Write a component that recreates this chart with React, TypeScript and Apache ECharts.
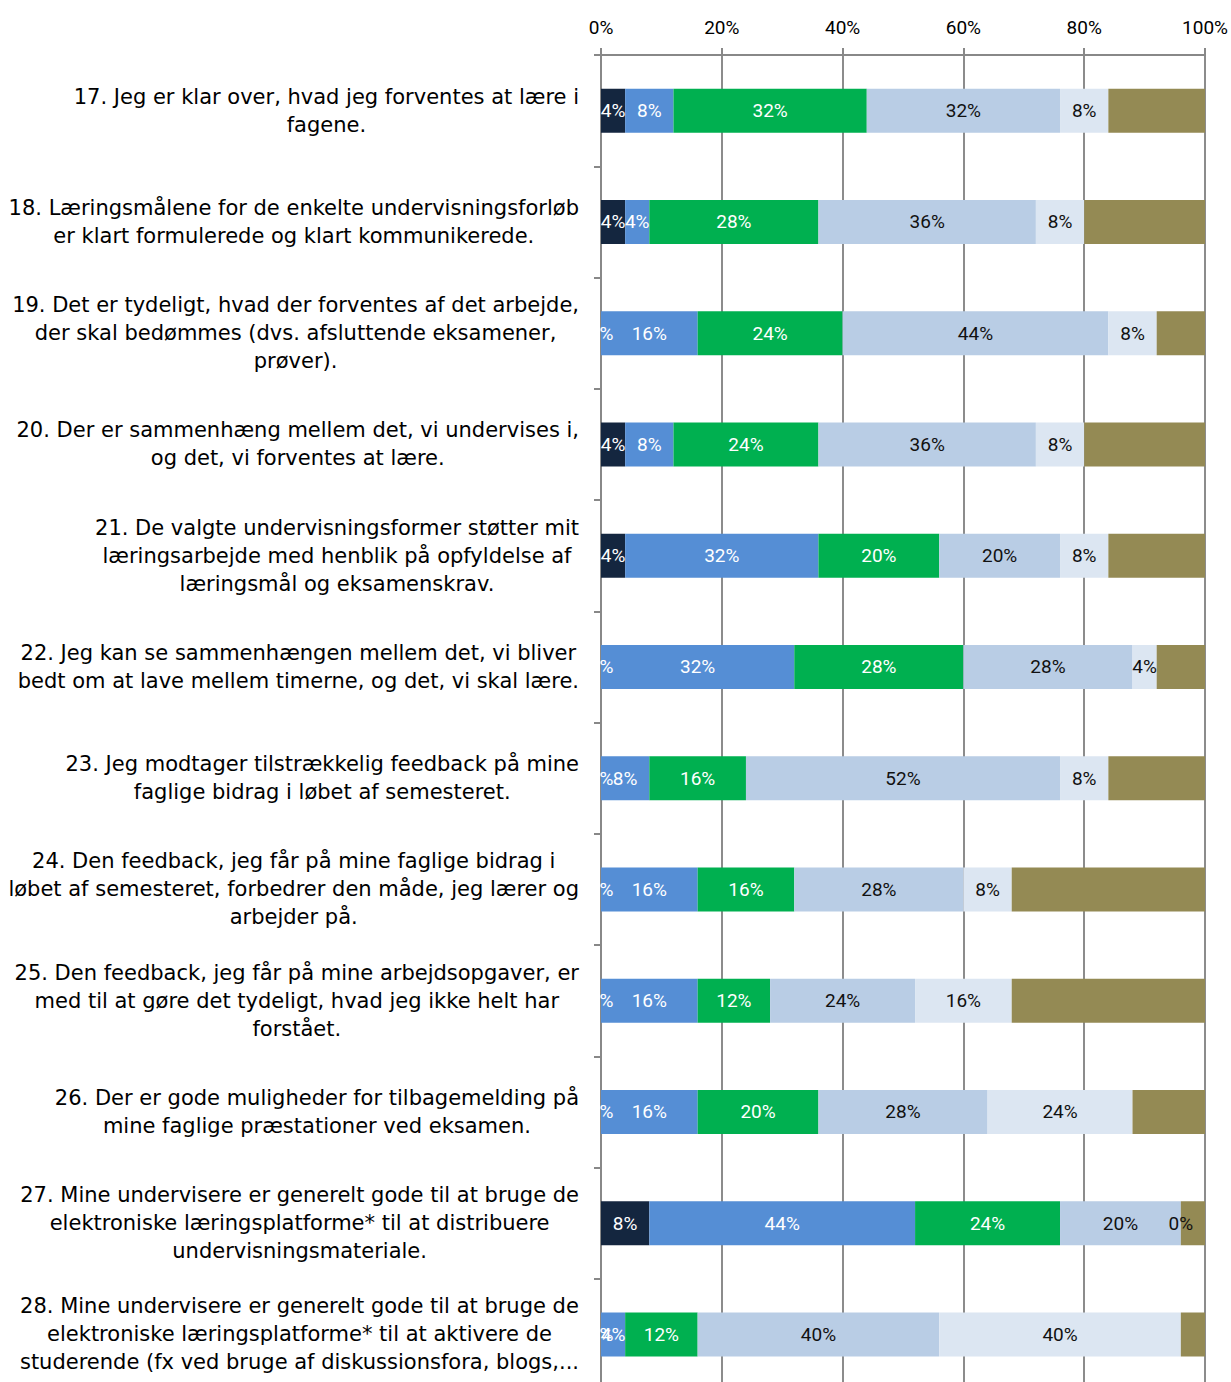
import React, { useEffect, useRef } from 'react';
import * as echarts from 'echarts';

const categories: string[][] = [
  ['17. Jeg er klar over, hvad jeg forventes at lære i', 'fagene.'],
  ['18. Læringsmålene for de enkelte undervisningsforløb', 'er klart formulerede og klart kommunikerede.'],
  ['19. Det er tydeligt, hvad der forventes af det arbejde,', 'der skal bedømmes (dvs. afsluttende eksamener,', 'prøver).'],
  ['20. Der er sammenhæng mellem det, vi undervises i,', 'og det, vi forventes at lære.'],
  ['21. De valgte undervisningsformer støtter mit', 'læringsarbejde med henblik på opfyldelse af', 'læringsmål og eksamenskrav.'],
  ['22. Jeg kan se sammenhængen mellem det, vi bliver', 'bedt om at lave mellem timerne, og det, vi skal lære.'],
  ['23. Jeg modtager tilstrækkelig feedback på mine', 'faglige bidrag i løbet af semesteret.'],
  ['24. Den feedback, jeg får på mine faglige bidrag i', 'løbet af semesteret, forbedrer den måde, jeg lærer og', 'arbejder på.'],
  ['25. Den feedback, jeg får på mine arbejdsopgaver, er', 'med til at gøre det tydeligt, hvad jeg ikke helt har', 'forstået.'],
  ['26. Der er gode muligheder for tilbagemelding på', 'mine faglige præstationer ved eksamen.'],
  ['27. Mine undervisere er generelt gode til at bruge de', 'elektroniske læringsplatforme* til at distribuere', 'undervisningsmateriale.'],
  ['28. Mine undervisere er generelt gode til at bruge de', 'elektroniske læringsplatforme* til at aktivere de', 'studerende (fx ved bruge af diskussionsfora, blogs,...'],
];

const seriesNames = ['Helt uenig', 'Uenig', 'Delvist enig', 'Enig', 'Helt enig', 'Ved ikke'];
const navyValues = [4, 4, 0, 4, 4, 0, 0, 0, 0, 0, 8, 0];
const blueValues = [8, 4, 16, 8, 32, 32, 8, 16, 16, 16, 44, 4];
const greenValues = [32, 28, 24, 24, 20, 28, 16, 16, 12, 20, 24, 12];
const lightValues = [32, 36, 44, 36, 20, 28, 52, 28, 24, 28, 20, 40];
const paleValues = [8, 8, 8, 8, 8, 4, 8, 8, 16, 24, 0, 40];
const oliveValues = [16, 20, 8, 20, 16, 8, 16, 32, 32, 12, 4, 4];
const xTicks = [0, 20, 40, 60, 80, 100];

const colors = ['#14263f', '#558ed5', '#00b050', '#b9cde5', '#dce6f2', '#948a54'];
const labelColors = ['#ffffff', '#ffffff', '#ffffff', '#111111', '#111111', '#111111'];
const showLabel = [true, true, true, true, true, false];

export default function App() {
  const ref = useRef<HTMLDivElement>(null);
  useEffect(() => {
    if (!ref.current) return;
    const chart = echarts.init(ref.current, null, { renderer: 'svg' });
    const allValues = [navyValues, blueValues, greenValues, lightValues, paleValues, oliveValues];
    const labelFont = "Roboto, 'Liberation Sans', sans-serif";
    chart.setOption({
      animation: false,
      backgroundColor: '#ffffff',
      grid: { left: 601, right: 26, top: 55, bottom: 0, containLabel: false, outerBoundsMode: 'none' },
      xAxis: {
        type: 'value',
        position: 'top',
        min: xTicks[0],
        max: xTicks[xTicks.length - 1],
        interval: 20,
        axisLine: { show: true, lineStyle: { color: '#888888', width: 2 } },
        axisTick: { show: true, length: 7, lineStyle: { color: '#888888', width: 2 } },
        splitLine: { show: true, lineStyle: { color: '#8c8c8c', width: 2 } },
        axisLabel: {
          formatter: '{value}%',
          fontSize: 19,
          color: '#000000',
          margin: 18,
          fontFamily: labelFont,
        },
      },
      yAxis: {
        type: 'category',
        inverse: true,
        data: categories.map((c) => c.join('\n')),
        axisLine: { show: true, lineStyle: { color: '#888888', width: 2 } },
        axisTick: { show: true, length: 7, lineStyle: { color: '#888888', width: 2 } },
        axisLabel: {
          margin: 22,
          align: 'right',
          formatter: (v: string) => v.split('\n').map((l) => `{a|${l}}`).join('\n'),
          rich: {
            a: {
              align: 'center',
              fontSize: 21,
              lineHeight: 28,
              color: '#000000',
              fontFamily: "'DejaVu Sans', Lato, sans-serif",
            },
          },
        },
      },
      series: seriesNames.map((name, i) => ({
        name,
        type: 'bar',
        stack: 'total',
        barWidth: 44,
        data: allValues[i],
        itemStyle: { color: colors[i] },
        label: {
          show: showLabel[i],
          position: 'inside',
          formatter: '{c}%',
          color: labelColors[i],
          fontSize: 19,
          fontFamily: labelFont,
        },
      })),
    });
    return () => chart.dispose();
  }, []);
  return (
    <div style={{ position: 'absolute', left: 0, top: 0, width: 1231, height: 1382, overflow: 'hidden', background: '#ffffff' }}>
      <div ref={ref} style={{ width: 1231, height: 1390 }} />
    </div>
  );
}
